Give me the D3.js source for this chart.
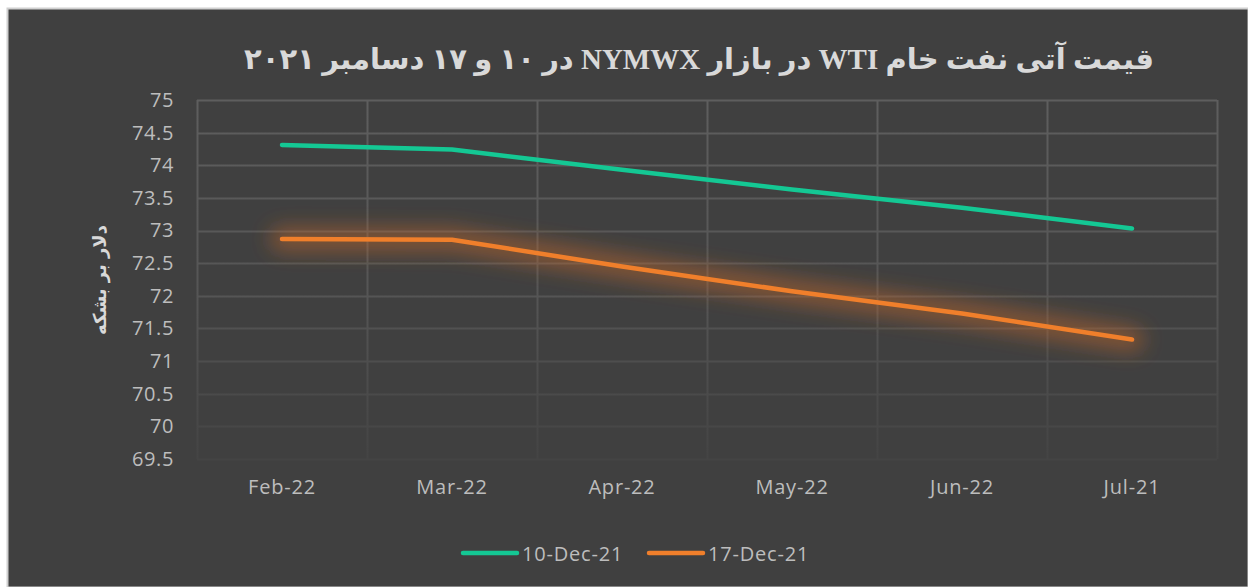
<!DOCTYPE html>
<html>
<head>
<meta charset="utf-8">
<script src="https://cdn.jsdelivr.net/npm/d3@7"></script>
<style>
	body { margin: 0; background: #fff; }
	text { font-family: "Open Sans", "Liberation Sans", sans-serif; }
</style>
</head>
<body>
<div id="chart"></div>
<script>
var categories = ["Feb-22", "Mar-22", "Apr-22", "May-22", "Jun-22", "Jul-21"];
var dec10 = [74.31, 74.24, 73.93, 73.63, 73.35, 73.03];
var dec17 = [72.87, 72.86, 72.45, 72.07, 71.73, 71.33];
var yTicks = [69.5, 70, 70.5, 71, 71.5, 72, 72.5, 73, 73.5, 74, 74.5, 75];
var seriesNames = ["10-Dec-21", "17-Dec-21"];
var colors = ["#14c894", "#f07f2b"];

(function() {
	var width = 1248, height = 587;
	var left = 197, right = 1217, top = 100, bottom = 459;

	var svg = d3.select("#chart")
		.append("svg")
		.attr("width", width)
		.attr("height", height)

	var defs = svg.append("defs")

	// gridlines fade out towards the bottom
	var grad = defs.append("linearGradient")
		.attr("id", "gridFade")
		.attr("gradientUnits", "userSpaceOnUse")
		.attr("x1", 0).attr("y1", top).attr("x2", 0).attr("y2", bottom)
	grad.append("stop").attr("offset", "0%").attr("stop-color", "#5e5e5e")
	grad.append("stop").attr("offset", "55%").attr("stop-color", "#555555")
	grad.append("stop").attr("offset", "100%").attr("stop-color", "#444444")

	var glow = defs.append("filter")
		.attr("id", "glow")
		.attr("x", "-10%").attr("y", "-50%")
		.attr("width", "120%").attr("height", "200%")
	glow.append("feGaussianBlur").attr("stdDeviation", 10)

	// frame
	svg.append("rect")
		.attr("x", 7.5).attr("y", 8.5)
		.attr("width", width - 7).attr("height", height - 8)
		.attr("fill", "#404040")
		.attr("stroke", "#d0d0d0")
		.attr("stroke-width", 2)

	var x = d3.scaleBand().domain(categories).range([left, right])
	var y = d3.scaleLinear().domain([69.5, 75]).range([bottom, top])

	// horizontal gridlines
	svg.append("g")
		.selectAll("line")
		.data(yTicks)
		.enter().append("line")
		.attr("x1", left).attr("x2", right)
		.attr("y1", function(d) { return Math.round(y(d)) + 0.5 })
		.attr("y2", function(d) { return Math.round(y(d)) + 0.5 })
		.attr("stroke", "url(#gridFade)")
		.attr("stroke-width", 2)

	// vertical gridlines at category boundaries
	var bounds = categories.map(function(c) { return x(c) }).concat([right])
	svg.append("g")
		.selectAll("line")
		.data(bounds)
		.enter().append("line")
		.attr("x1", function(d) { return Math.round(d) + 0.5 })
		.attr("x2", function(d) { return Math.round(d) + 0.5 })
		.attr("y1", top).attr("y2", bottom)
		.attr("stroke", "url(#gridFade)")
		.attr("stroke-width", 2)

	// y axis labels
	var yAxis = svg.append("g")
		.attr("transform", "translate(" + (left - 23) + ",0)")
		.call(d3.axisLeft(y).tickValues(yTicks).tickSize(0).tickPadding(0).tickFormat(function(d) { return d }))
	yAxis.select(".domain").remove()
	yAxis.selectAll("text")
		.attr("fill", "#bdbdbd")
		.style("font-size", "20px")
		.style("letter-spacing", "0.6px")

	// x axis labels
	var xAxis = svg.append("g")
		.attr("transform", "translate(0," + (bottom + 21) + ")")
		.call(d3.axisBottom(x).tickSize(0).tickPadding(0))
	xAxis.select(".domain").remove()
	xAxis.selectAll("text")
		.attr("fill", "#bdbdbd")
		.style("font-size", "20px")
		.style("letter-spacing", "0.8px")

	var line = d3.line()
		.x(function(d, i) { return x(categories[i]) + x.bandwidth() / 2 })
		.y(function(d) { return y(d) })

	// orange glow
	svg.append("path")
		.datum(dec17)
		.attr("d", line)
		.attr("fill", "none")
		.attr("stroke", "#c8672a")
		.attr("stroke-opacity", 0.5)
		.attr("stroke-width", 24)
		.attr("stroke-linecap", "round")
		.attr("filter", "url(#glow)")

	var series = [dec10, dec17]
	series.forEach(function(s, i) {
		svg.append("path")
			.datum(s)
			.attr("d", line)
			.attr("fill", "none")
			.attr("stroke", colors[i])
			.attr("stroke-width", 4.5)
			.attr("stroke-linecap", "round")
			.attr("stroke-linejoin", "round")
	})

	// title
	svg.append("text")
		.attr("x", 699).attr("y", 69)
		.attr("text-anchor", "middle")
		.attr("direction", "rtl")
		.attr("fill", "#d9d9d9")
		.style("font-family", "'Liberation Serif', 'DejaVu Sans', serif")
		.style("font-weight", "bold")
		.style("font-size", "29px")
		.text("قیمت آتی نفت خام WTI در بازار NYMWX در ۱۰ و ۱۷ دسامبر ۲۰۲۱")

	// y axis title
	svg.append("text")
		.attr("transform", "translate(106,280) rotate(-90)")
		.attr("text-anchor", "middle")
		.attr("direction", "rtl")
		.attr("fill", "#d9d9d9")
		.style("font-family", "'DejaVu Sans', serif")
		.style("font-weight", "bold")
		.style("font-size", "18px")
		.text("دلار بر بشکه")

	// legend
	var legendX = [463, 649]
	var legend = svg.append("g")
	seriesNames.forEach(function(n, i) {
		legend.append("line")
			.attr("x1", legendX[i]).attr("x2", legendX[i] + 54)
			.attr("y1", 553).attr("y2", 553)
			.attr("stroke", colors[i])
			.attr("stroke-width", 4.5)
			.attr("stroke-linecap", "round")
		legend.append("text")
			.attr("x", legendX[i] + 59).attr("y", 561)
			.attr("fill", "#bdbdbd")
			.style("font-size", "20px")
			.style("letter-spacing", "0.8px")
			.text(n)
	})
})();
</script>
</body>
</html>
